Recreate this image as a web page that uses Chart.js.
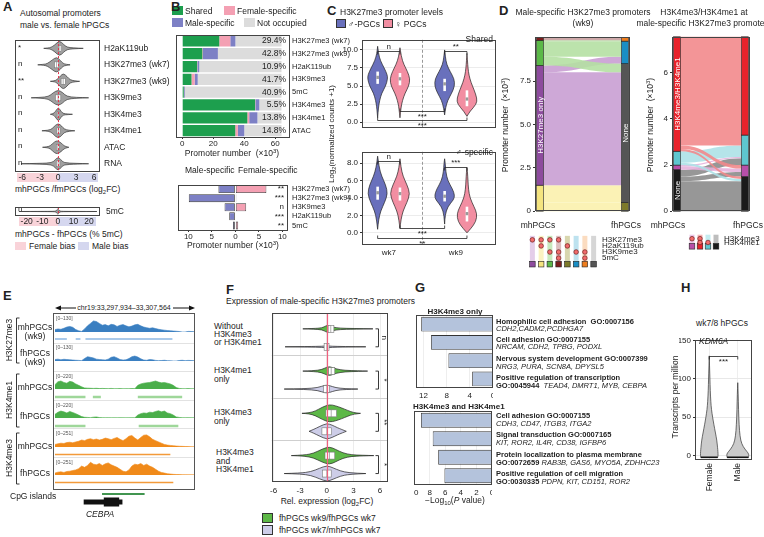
<!DOCTYPE html>
<html>
<head>
<meta charset="utf-8">
<title>Male-specific H3K27me3 in hPGCs</title>
<script src="https://cdn.jsdelivr.net/npm/chart.js@4.4.1/dist/chart.umd.min.js"></script>
<style>
  body { margin: 0; background: #fff; }
  #fig { position: relative; width: 764px; height: 537px; overflow: hidden; font-family: "Liberation Sans", Arial, "DejaVu Sans", sans-serif; font-size: 8px; color: #222; }
  #fig canvas, #fig .t, #fig .sq { position: absolute; }
  #fig svg { z-index: 0; }
  #fig .sq { z-index: 1; }
  #fig canvas { z-index: 2; }
  #fig .t { z-index: 3; }
  .t { white-space: nowrap; line-height: 1; }
  sub { font-size: 0.7em; vertical-align: -0.3em; line-height: 0; }
  sup { font-size: 0.7em; vertical-align: 0.5em; line-height: 0; }
</style>
</head>
<body>
<div id="fig"></div>
<script>
// ---------- A: male vs female hPGCs, log2FC per autosomal promoter ----------
const aRows = ['H2aK119ub', 'H3K27me3 (wk7)', 'H3K27me3 (wk9)', 'H3K9me3', 'H3K4me3', 'H3K4me1', 'ATAC', 'RNA'];
const aSig = ['*', 'n', '**', 'n', 'n', 'n', 'n', 'n'];
const aTicks = [-6, -3, 0, 3, 6];
const aViolins = [
  [[-2.4,0],[-1.6,0.06],[-1.2,0.12],[-0.6,0.4],[0.25,1],[0.9,0.5],[1.5,0.14],[2.5,0.06],[4.2,0]],
  [[-3.4,0],[-2.4,0.06],[-1.8,0.15],[-1,0.6],[-0.25,1],[0.4,0.55],[0.8,0.18],[1.4,0.06],[2,0]],
  [[-1.3,0],[-0.6,0.06],[-0.2,0.2],[0.4,0.7],[0.9,1],[1.5,0.6],[2,0.18],[2.8,0.06],[3.6,0]],
  [[-4.5,0],[-3,0.05],[-1.6,0.15],[-0.8,0.65],[0,1],[0.8,0.65],[1.4,0.18],[3,0.05],[5.1,0]],
  [[-1.3,0],[-0.8,0.08],[-0.5,0.3],[-0.1,0.75],[0.15,0.8],[0.5,0.35],[0.9,0.08],[1.6,0.05],[2.4,0]],
  [[-2.7,0],[-1.6,0.06],[-1,0.25],[-0.4,0.75],[0.1,0.9],[0.6,0.6],[1,0.22],[1.8,0.06],[2.8,0]],
  [[-2.6,0],[-1.8,0.06],[-1.3,0.18],[-0.6,0.7],[-0.1,0.85],[0.5,0.55],[1,0.18],[1.5,0.06],[1.8,0]],
  [[-6.2,0],[-3,0.05],[-1,0.12],[-0.5,0.5],[0,0.85],[0.5,0.5],[0.9,0.12],[3,0.05],[5.1,0]]
];
const aBoxes = [[0.05,0.3,0.6],[-0.6,-0.25,0.1],[0.5,0.85,1.2],[-0.45,0,0.45],[-0.15,0.05,0.25],[-0.2,0.1,0.35],[-0.3,-0.05,0.2],[-0.3,0,0.3]];
const mcTicks = [-20, -10, 0, 10, 20];
const mcViolin = [[-25,0],[-10,0.04],[-3,0.06],[-1.5,0.15],[-0.5,0.6],[0,0.9],[0.5,0.6],[1.5,0.15],[3,0.06],[10,0.04],[25,0]];
const mcBox = [-0.4, 0, 0.4];

// ---------- B: promoter occupancy (x10^3) ----------
const bRows = ['H3K27me3 (wk7)', 'H3K27me3 (wk9)', 'H2aK119ub', 'H3K9me3', '5mC', 'H3K4me3', 'H3K4me1', 'ATAC'];
const bShared = [23.9, 13.0, 9.6, 6.0, 1.0, 47.0, 42.0, 34.2];
const bFemale = [7.1, 0.4, 0.2, 2.0, 0.2, 0.2, 1.2, 1.7];
const bMale = [3.3, 9.6, 1.2, 2.0, 0.5, 2.5, 5.3, 4.1];
const bNone = [29.7, 41.0, 53.0, 54.0, 62.3, 14.3, 15.5, 24.0];
const bPct = ['29.4%', '42.8%', '10.9%', '41.7%', '40.9%', '5.5%', '13.8%', '14.8%'];
const bTicks = [0, 20, 40, 60];
const bdRows = ['H3K27me3 (wk7)', 'H3K27me3 (wk9)', 'H3K9me3', 'H2aK119ub', '5mC'];
const bdMale = [-3.6, -9.9, -2.3, -1.3, -0.5];
const bdFemale = [6.6, 0.2, 2.3, 0.1, 0.6];
const bdSig = ['**', '***', 'n', '***', '**'];
const bdTicks = [-10, -5, 0, 5, 10];

// ---------- C: H3K27me3 promoter levels (blue male, pink female; wk7 then wk9) ----------
const cGroups = ['wk7', 'wk9'];
const cUpTicks = [0, 2.5, 5, 7.5, 10];
const cLowTicks = [0, 2, 4, 6, 8];
const cSharedViolins = [
  [[0.6,0],[2,0.08],[3,0.2],[4,0.4],[5,0.8],[6,1],[6.6,0.95],[7.5,0.65],[8.5,0.28],[9.5,0.08],[10.5,0]],
  [[0.6,0],[2,0.1],[3,0.25],[4,0.5],[5,0.88],[6,1],[7,0.75],[8,0.38],[9,0.14],[10.3,0]],
  [[1,0],[2,0.1],[3,0.3],[4,0.7],[5,1],[6,0.95],[7,0.55],[8,0.2],[9,0.08],[10,0]],
  [[0.8,0],[1.5,0.3],[2.5,0.95],[3.3,1],[4.5,0.7],[5.5,0.4],[6.5,0.2],[7.5,0.1],[8.5,0.05],[9.5,0]]
];
const cSharedBoxes = [[5.3,6.2,7.0],[5.1,6.0,6.8],[4.3,5.3,6.0],[2.2,3.2,4.4]];
const cMaleViolins = [
  [[0.4,0],[1.5,0.1],[2.5,0.3],[3.5,0.7],[4.5,1],[5.5,0.8],[6.5,0.4],[7.5,0.15],[8.8,0]],
  [[0.5,0],[1.5,0.1],[2.5,0.3],[3.5,0.7],[4.5,1],[5.5,0.7],[6.5,0.3],[7.5,0.1],[8.5,0]],
  [[1,0],[2,0.05],[3,0.3],[3.8,0.9],[4.3,1],[5,0.8],[6,0.3],[7,0.12],[8,0.06],[8.5,0]],
  [[0,0],[0.5,0.4],[1.3,0.9],[2.2,1],[3,0.7],[4,0.3],[5,0.15],[6,0.1],[7,0.05],[7.5,0]]
];
const cMaleBoxes = [[3.8,4.6,5.3],[3.7,4.5,5.2],[3.6,4.2,4.8],[1.3,2.2,3.0]];

// ---------- D: alluvial flows (x10^3 promoters), stacked bottom to top ----------
const dLeftVals = [1.5, 6.9, 1.45, 0.15];      // mhPGCs: K27+K119, K27 only, K27+K9, K27+K9+5mC
const dRightVals = [0.5, 8.0, 1.3, 0.2];       // fhPGCs: K119 only, none, K9 only, K9+5mC
const dFlows = [[0,0,0.5],[0,1,1.0],[1,1,6.5],[1,2,0.4],[2,1,0.5],[2,2,0.9],[2,3,0.05],[3,3,0.15]];
const dTicks = [0, 2.5, 5, 7.5];
const dLegRows = ['H3K27me3', 'H2aK119ub', 'H3K9me3', '5mC'];
const dLegMarks = [[0],[0,1],[0,2],[0,2,3],[1],[2],[2,3],[]];
const d2LeftVals = [1.8, 0.2, 0.6, 4.96];      // none, K4me3, K4me1, both
const d2RightVals = [1.5, 0.5, 1.3, 4.26];
const d2Flows = [[0,0,1.3],[0,1,0.2],[0,2,0.3],[1,1,0.15],[1,2,0.05],[2,0,0.1],[2,2,0.5],[3,0,0.1],[3,1,0.15],[3,2,0.45],[3,3,4.26]];
const d2Ticks = [0, 2, 4, 6];
const d2LegRows = ['H3K4me3', 'H3K4me1'];
const d2LegMarks = [[0],[0,1],[1],[]];

// ---------- E: browser tracks at CEBPA (48 bins) ----------
const eK27mh = [20,25,22,30,40,45,38,20,10,5,25,50,70,90,85,70,55,60,50,62,58,45,55,60,50,42,48,58,62,50,40,35,30,34,28,22,18,15,12,10,8,6,4,0,0,5,4,3];
const eK27fh = [12,15,10,14,12,10,8,6,5,3,20,35,30,25,15,12,10,8,15,30,35,25,12,8,10,20,35,40,32,18,8,6,12,10,5,3,4,6,3,2,0,0,4,6,3,5,4,3];
const eK4me1mh = [60,100,110,90,80,105,95,70,50,30,15,12,10,8,10,6,8,6,5,8,4,5,6,3,5,4,6,5,50,70,80,85,90,100,110,95,85,90,80,70,50,20,8,5,3,6,4,3];
const eK4me1fh = [50,80,95,85,70,90,75,60,40,20,10,8,5,12,15,6,4,3,4,2,3,2,4,3,2,3,4,3,40,60,70,65,80,75,90,100,85,95,70,60,40,15,8,4,3,5,3,2];
const eK4me3mh = [40,50,60,55,70,75,65,80,90,110,100,120,130,115,125,110,120,140,130,115,135,150,120,100,130,170,180,140,110,150,185,190,160,120,100,80,60,40,30,25,20,15,12,10,8,6,4,3];
const eK4me3fh = [30,45,50,40,55,60,70,80,100,140,120,150,200,170,160,180,150,175,190,160,140,120,90,60,50,80,140,170,160,180,150,170,140,120,90,60,40,30,20,15,10,8,6,5,4,3,3,2];
const ePeaksK27mh = [[0,4],[7,8.6],[10.3,39.7]];
const ePeaksK4me1mh = [[0,10.3],[12.8,15.5],[28,43]];
const ePeaksK4me1fh = [[0,10.3],[28.3,41.7]];
const ePeaksK4me3mh = [[0,39]];
const ePeaksK4me3fh = [[0,40]];
const eCpG = [15.9, 30.3];
const eGeneUTR = [9.7, 22.8];
const eGeneCDS = [16.5, 21.7];

// ---------- F: expression of male-specific H3K27me3 promoters ----------
const fTicks = [-6, -3, 0, 3, 6];
const fSig = ['n', '*', '**', '*'];
const fGreen = [
  [[-2.7,0],[-1.5,0.04],[-0.5,0.1],[-0.1,0.35],[0.2,0.38],[0.6,0.2],[1.5,0.07],[3,0.04],[5.2,0]],
  [[-2.7,0],[-1.5,0.05],[-0.6,0.15],[0,0.45],[0.4,0.5],[1,0.25],[2,0.08],[3.5,0.04],[4.6,0]],
  [[-2.8,0],[-2,0.05],[-1.3,0.25],[-0.5,0.7],[0.3,1],[1,0.85],[1.7,0.6],[2.3,0.35],[3,0.08],[3.8,0]],
  [[-4,0],[-2.5,0.06],[-1.5,0.25],[-0.5,0.75],[0.3,1],[1,0.7],[1.8,0.3],[2.8,0.08],[4,0.04],[5.3,0]]
];
const fLav = [
  [[-4.7,0],[-2,0.03],[-0.5,0.06],[0,0.12],[0.5,0.06],[2,0.03],[4.4,0]],
  [[-4.8,0],[-2.5,0.04],[-1,0.15],[-0.2,0.45],[0.3,0.4],[1,0.15],[2,0.05],[3.5,0]],
  [[-2,0],[-1.5,0.2],[-0.8,0.55],[0,0.9],[0.6,0.7],[1.2,0.4],[1.7,0.2],[2.2,0]],
  [[-4.8,0],[-3,0.05],[-1.8,0.2],[-0.8,0.6],[0,0.9],[0.7,0.65],[1.5,0.3],[2.5,0.08],[4.4,0]]
];
const fGreenBoxes = [[0.15,0.45,0.8],[0.2,0.5,0.9],[-0.1,0.5,1.1],[-0.2,0.3,0.9]];
const fLavBoxes = [[-0.3,0,0.25],[-0.35,0,0.3],[-0.55,0,0.55],[-0.5,0,0.5]];

// ---------- G: GO enrichment, -log10(P) ----------
const gTopTerms = ['Homophilic cell adhesion', 'Cell adhesion', 'Nervous system development', 'Positive regulation of transcription'];
const gTopP = [12.4, 10.7, 7.7, 3.6];
const gTopTicks = [0, 4, 8, 12];
const gBotTerms = ['Cell adhesion', 'Signal transduction', 'Protein localization to plasma membrane', 'Positive regulation of cell migration'];
const gBotP = [9.1, 7.6, 6.9, 6.1];
const gBotTicks = [0, 2, 4, 6, 8, 10];

// ---------- H: KDM6A TPM ----------
const hGroups = ['Female', 'Male'];
const hTicks = [0, 50, 100, 150];
const hViolins = [
  [[-3,0.75],[0,0.8],[5,0.78],[10,0.75],[20,0.68],[30,0.55],[40,0.42],[50,0.3],[60,0.2],[70,0.14],[85,0.09],[100,0.06],[115,0.03],[130,0]],
  [[-3,0.95],[0,1],[3,0.95],[8,0.65],[15,0.35],[25,0.2],[40,0.12],[60,0.07],[80,0.04],[95,0]]
];
const hMedians = [-2.5, -2.5];

// ================= setup =================
const fig = document.getElementById('fig');
const FONT = '"Liberation Sans", Arial, "DejaVu Sans", sans-serif';

Chart.defaults.font.family = FONT;
Chart.defaults.font.size = 8;
Chart.defaults.color = '#222';
Chart.defaults.animation = false;
Chart.defaults.responsive = false;
Chart.defaults.maintainAspectRatio = false;
Chart.defaults.layout.autoPadding = false;
Chart.defaults.plugins.legend.display = false;
Chart.defaults.plugins.tooltip.enabled = false;
Chart.defaults.events = [];
Chart.defaults.scale.ticks.autoSkip = false;
Chart.defaults.scale.ticks.maxRotation = 0;

function mk(x, y, w, h) {
  const c = document.createElement('canvas');
  c.width = w; c.height = h;
  c.style.left = x + 'px'; c.style.top = y + 'px';
  c.style.width = w + 'px'; c.style.height = h + 'px';
  fig.appendChild(c);
  return c;
}
function mkSvg(x, y, w, h) {
  const s = document.createElementNS('http://www.w3.org/2000/svg', 'svg');
  s.setAttribute('width', w); s.setAttribute('height', h);
  s.setAttribute('viewBox', `${x} ${y} ${w} ${h}`);
  s.style.cssText = `position:absolute;left:${x}px;top:${y}px`;
  fig.insertBefore(s, fig.firstChild);
  return s;
}
const svgAdd = (s, html) => s.insertAdjacentHTML('beforeend', html);
const pts = p => p.map(q => q.map(v => v.toFixed(1)).join(',')).join(' ');
const fixTicks = vals => s => { s.ticks = vals.map(v => ({ value: v })); };
const fixW = w => s => { s.width = w; };
const fixH = h => s => { s.height = h; };

function T(x, y, html, o = {}) {
  const d = document.createElement('div');
  d.className = 't'; d.innerHTML = html;
  const s = d.style;
  s.left = x + 'px'; s.top = y + 'px';
  if (o.size) s.fontSize = o.size + 'px';
  if (o.bold) s.fontWeight = 'bold';
  if (o.italic) s.fontStyle = 'italic';
  if (o.color) s.color = o.color;
  if (o.lh) s.lineHeight = o.lh + 'px';
  if (o.a === 'c') s.transform = 'translateX(-50%)';
  if (o.a === 'r') s.transform = 'translateX(-100%)';
  if (o.rot) s.transform = 'translate(-50%,-50%) rotate(-90deg)';
  fig.appendChild(d);
}
function SQ(x, y, w, h, fill, stroke) {
  const d = document.createElement('div');
  d.className = 'sq';
  d.style.cssText = `left:${x}px;top:${y}px;width:${w}px;height:${h}px;background:${fill};` + (stroke ? `box-sizing:border-box;border:0.8px solid ${stroke};` : '');
  fig.appendChild(d);
}

// ---------- small plugins ----------
function smoothTo(ctx, p, start) {
  if (start) ctx.moveTo(p[0][0], p[0][1]); else ctx.lineTo(p[0][0], p[0][1]);
  for (let i = 1; i < p.length - 1; i++) {
    ctx.quadraticCurveTo(p[i][0], p[i][1], (p[i][0] + p[i + 1][0]) / 2, (p[i][1] + p[i + 1][1]) / 2);
  }
  const e = p[p.length - 1];
  ctx.lineTo(e[0], e[1]);
}
function widthAt(prof, v) {
  for (let i = 1; i < prof.length; i++) {
    if (v <= prof[i][0]) {
      const [a, da] = prof[i - 1], [b, db] = prof[i];
      return da + (db - da) * (v - a) / (b - a);
    }
  }
  return 0;
}

function frame(color = '#444', lw = 1) {
  return { id: 'frame', afterDraw(c) {
    const a = c.chartArea, x = c.ctx;
    x.save(); x.strokeStyle = color; x.lineWidth = lw;
    x.strokeRect(Math.round(a.left) + 0.5, Math.round(a.top) + 0.5, Math.round(a.right - a.left) - 1, Math.round(a.bottom - a.top) - 1);
    x.restore();
  } };
}

function refLines(items) {
  const draw = (c, over) => {
    const a = c.chartArea, x = c.ctx;
    items.filter(l => !!l.over === over).forEach(l => {
      const p = Math.round(c.scales[l.axis].getPixelForValue(l.at)) + 0.5;
      x.save(); x.strokeStyle = l.color; x.lineWidth = l.lw || 1; x.setLineDash(l.dash || []);
      x.beginPath();
      if (l.axis === 'x') { x.moveTo(p, a.top); x.lineTo(p, a.bottom); } else { x.moveTo(a.left, p); x.lineTo(a.right, p); }
      x.stroke(); x.restore();
    });
  };
  return { id: 'refLines', beforeDatasetsDraw(c) { draw(c, false); }, afterDatasetsDraw(c) { draw(c, true); } };
}

function rowText(labels, o = {}) {
  return { id: 'rowText', afterDraw(c) {
    const a = c.chartArea, ys = c.scales.y, x = c.ctx;
    x.save(); x.fillStyle = '#222'; x.font = (o.size || 8) + 'px ' + FONT;
    x.textAlign = o.align || 'left'; x.textBaseline = 'middle';
    const px = o.align === 'left' || !o.align ? a.left + (o.pad || 3) : a.right - (o.pad || 3);
    labels.forEach((l, i) => x.fillText(l, px, ys.getPixelForValue(i) + (o.dy || 0)));
    x.restore();
  } };
}

function violins(cfg) {
  return { id: 'violins', afterDatasetsDraw(chart) {
    const ctx = chart.ctx, a = chart.chartArea;
    const vs = cfg.horizontal ? chart.scales.x : chart.scales.y;
    const ps = cfg.horizontal ? chart.scales.y : chart.scales.x;
    const P = (v, p) => cfg.horizontal ? [vs.getPixelForValue(v), ps.getPixelForValue(p)] : [ps.getPixelForValue(p), vs.getPixelForValue(v)];
    const w = cfg.width;
    ctx.save();
    ctx.beginPath(); ctx.rect(a.left, a.top, a.right - a.left, a.bottom - a.top); ctx.clip();
    cfg.items.forEach(it => {
      const s1 = it.prof.map(([v, d]) => P(v, it.pos - d * w));
      const s2 = it.prof.map(([v, d]) => P(v, it.pos + d * w)).reverse();
      ctx.beginPath(); smoothTo(ctx, s1, true); smoothTo(ctx, s2, false); ctx.closePath();
      ctx.fillStyle = it.color; ctx.fill();
      ctx.lineWidth = cfg.lw || 0.7; ctx.strokeStyle = cfg.stroke || '#222'; ctx.stroke();
      if (!it.box) return;
      if (cfg.boxStyle === 'box') {
        const [q1, m, q3] = it.box, h = cfg.boxH;
        const x1 = vs.getPixelForValue(q1), x2 = vs.getPixelForValue(q3), xm = vs.getPixelForValue(m), y = ps.getPixelForValue(it.pos);
        ctx.fillStyle = '#fff'; ctx.fillRect(x1, y - h, x2 - x1, 2 * h);
        ctx.lineWidth = 0.6; ctx.strokeStyle = '#777'; ctx.strokeRect(x1, y - h, x2 - x1, 2 * h);
        ctx.beginPath(); ctx.moveTo(xm, y - h); ctx.lineTo(xm, y + h); ctx.stroke();
      } else if (cfg.boxStyle === 'bar') {
        const [q1, m, q3] = it.box, x = ps.getPixelForValue(it.pos);
        const y1 = vs.getPixelForValue(q3), y2 = vs.getPixelForValue(q1), ym = vs.getPixelForValue(m);
        ctx.fillStyle = '#fff'; ctx.fillRect(x - 1.3, y1, 2.6, y2 - y1);
        ctx.fillStyle = '#9a9a9a'; ctx.fillRect(x - 1.3, ym - 1.6, 2.6, 3.2);
      } else if (cfg.boxStyle === 'median') {
        const m = it.box[0], hw = widthAt(it.prof, m) * w;
        const [x1, y1] = P(m, it.pos - hw), [x2, y2] = P(m, it.pos + hw);
        ctx.lineWidth = 1.6; ctx.strokeStyle = '#111';
        ctx.beginPath(); ctx.moveTo(x1, y1); ctx.lineTo(x2, y2); ctx.stroke();
      }
    });
    ctx.restore();
  } };
}

function brackets(items) {
  return { id: 'brackets', afterDatasetsDraw(chart) {
    const ctx = chart.ctx, xs = chart.scales.x, ys = chart.scales.y;
    ctx.save();
    ctx.strokeStyle = '#222'; ctx.fillStyle = '#222'; ctx.lineWidth = 0.8;
    ctx.font = '8px ' + FONT; ctx.textAlign = 'center';
    items.forEach(b => {
      const x1 = xs.getPixelForValue(b.from), x2 = xs.getPixelForValue(b.to), y = Math.round(ys.getPixelForValue(b.at)) + 0.5;
      ctx.beginPath(); ctx.moveTo(x1, y + b.tick); ctx.lineTo(x1, y); ctx.lineTo(x2, y); ctx.lineTo(x2, y + b.tick); ctx.stroke();
      if (b.below) { ctx.textBaseline = 'top'; ctx.fillText(b.label, (x1 + x2) / 2, y + 1); }
      else { ctx.textBaseline = 'bottom'; ctx.fillText(b.label, (x1 + x2) / 2, y - 0.5); }
    });
    ctx.restore();
  } };
}

function sideBrackets(labels, posA, posB) {
  return { id: 'sideBrackets', afterDraw(chart) {
    const ctx = chart.ctx, ys = chart.scales.y, x = Math.round(chart.chartArea.right - 10) + 0.5;
    ctx.save(); ctx.strokeStyle = '#222'; ctx.fillStyle = '#222'; ctx.lineWidth = 0.9; ctx.font = '8px ' + FONT;
    labels.forEach((l, g) => {
      const y1 = ys.getPixelForValue(posA(g)), y2 = ys.getPixelForValue(posB(g));
      ctx.beginPath(); ctx.moveTo(x - 3, y1); ctx.lineTo(x, y1); ctx.lineTo(x, y2); ctx.lineTo(x - 3, y2); ctx.stroke();
      ctx.save(); ctx.translate(x + 2, (y1 + y2) / 2); ctx.rotate(Math.PI / 2);
      ctx.textAlign = 'center'; ctx.textBaseline = 'bottom'; ctx.fillText(l, 0, 0); ctx.restore();
    });
    ctx.restore();
  } };
}

function alluvial(cfg) {
  return { id: 'alluvial', afterDatasetsDraw(chart) {
    const ctx = chart.ctx, a = chart.chartArea, ys = chart.scales.y;
    const nw = 7, xl0 = a.left + 1.5, xl1 = xl0 + nw, xr1 = a.right - 1.5, xr0 = xr1 - nw;
    const starts = vals => { let s = 0; return vals.map(v => { const r = s; s += v; return r; }); };
    const ls = starts(cfg.left), rs = starts(cfg.right);
    const lo = cfg.left.map(() => 0), ro = cfg.right.map(() => 0);
    const fl = cfg.flows.map(([s, t, v]) => ({ s, t, v }));
    fl.slice().sort((p, q) => p.s - q.s || p.t - q.t).forEach(f => { f.y0 = ls[f.s] + lo[f.s]; lo[f.s] += f.v; });
    fl.slice().sort((p, q) => p.t - q.t || p.s - q.s).forEach(f => { f.y1 = rs[f.t] + ro[f.t]; ro[f.t] += f.v; });
    const Y = v => ys.getPixelForValue(v), xm = (xl1 + xr0) / 2;
    ctx.save();
    ctx.globalAlpha = cfg.alpha;
    fl.forEach(f => {
      const a0 = Y(f.y0), a1 = Y(f.y0 + f.v), b0 = Y(f.y1), b1 = Y(f.y1 + f.v);
      ctx.beginPath(); ctx.moveTo(xl1, a0); ctx.bezierCurveTo(xm, a0, xm, b0, xr0, b0);
      ctx.lineTo(xr0, b1); ctx.bezierCurveTo(xm, b1, xm, a1, xl1, a1); ctx.closePath();
      ctx.fillStyle = cfg.flowColors[f.s]; ctx.fill();
    });
    ctx.globalAlpha = 1;
    const node = (x, y0, v, col, lab) => {
      const top = Y(y0 + v), bot = Y(y0);
      ctx.fillStyle = col; ctx.fillRect(x, top, nw, bot - top);
      ctx.lineWidth = 0.6; ctx.strokeStyle = '#222'; ctx.strokeRect(x, top, nw, bot - top);
      if (lab) {
        ctx.save(); ctx.translate(x + nw / 2 + 0.5, (top + bot) / 2); ctx.rotate(-Math.PI / 2);
        ctx.fillStyle = '#fff'; ctx.font = '8px ' + FONT; ctx.textAlign = 'center'; ctx.textBaseline = 'middle';
        ctx.fillText(lab, 0, 0); ctx.restore();
      }
    };
    cfg.left.forEach((v, i) => node(xl0, ls[i], v, cfg.leftColors[i], cfg.leftLabels[i]));
    cfg.right.forEach((v, i) => node(xr0, rs[i], v, cfg.rightColors[i], cfg.rightLabels[i]));
    ctx.restore();
  } };
}

function matrix(cfg) {
  return { id: 'matrix', beforeDatasetsDraw(chart) {
    const ctx = chart.ctx, xs = chart.scales.x, ys = chart.scales.y, n = cfg.rows;
    cfg.stripe.forEach((col, c) => {
      const x = xs.getPixelForValue(c), t = ys.getPixelForValue(0) - 4, b = ys.getPixelForValue(n - 1) + 4, sq = ys.getPixelForValue(n);
      ctx.fillStyle = col; ctx.fillRect(x - 2.5, t, 5, b - t);
      ctx.fillStyle = cfg.square[c]; ctx.fillRect(x - 2.8, sq - 2.8, 5.6, 5.6);
      ctx.lineWidth = 0.6; ctx.strokeStyle = '#222'; ctx.strokeRect(x - 2.8, sq - 2.8, 5.6, 5.6);
    });
  } };
}

function segs(items) {
  return { id: 'segs', afterDraw(chart) {
    const ctx = chart.ctx, xs = chart.scales.x, b = chart.chartArea.bottom;
    items.forEach(s => {
      const x1 = xs.getPixelForValue(s.r[0]), x2 = xs.getPixelForValue(s.r[1]);
      ctx.fillStyle = s.color; ctx.fillRect(x1, b + s.dy - s.h / 2, x2 - x1, s.h);
    });
  } };
}

const noGrid = { display: false, drawTicks: false };
const noBorder = { display: false };

// bias bands under the A axes (z-index keeps tick labels on top)
SQ(17, 173, 41, 9, '#f9d3d9'); SQ(58, 173, 40, 9, '#d5d7ef');
SQ(19, 217, 39, 9, '#f9d3d9'); SQ(58, 217, 38, 9, '#d5d7ef');

// ================= A =================
const aX = (min, max, ticks) => ({ type: 'linear', position: 'bottom', min, max, afterBuildTicks: fixTicks(ticks),
  grid: noGrid, border: noBorder, ticks: { display: true, padding: 1, color: '#222', font: { size: 8.5 } }, afterFit: fixH(11) });
new Chart(mk(15, 31, 170, 152), {
  type: 'scatter', data: { datasets: [] },
  options: { scales: {
    x: aX(-7.2, 7, aTicks),
    y: { type: 'category', labels: aRows, offset: true, position: 'right', grid: noGrid, border: noBorder, ticks: { padding: 4, font: { size: 8.5 } }, afterFit: fixW(85) }
  } },
  plugins: [
    violins({ horizontal: true, width: 0.48, boxStyle: 'box', boxH: 3, lw: 0.6,
      items: aViolins.map((p, i) => ({ pos: i, prof: p, color: '#a0a0a0', box: aBoxes[i] })) }),
    refLines([{ axis: 'x', at: 0, color: '#e8304a', dash: [2, 2], over: true }]),
    rowText(aSig, { align: 'left', pad: 3, dy: -1 }),
    frame()
  ]
});
new Chart(mk(15, 196, 170, 31), {
  type: 'scatter', data: { datasets: [] },
  options: { scales: {
    x: aX(-27.5, 27, mcTicks),
    y: { type: 'category', labels: ['5mC'], offset: true, position: 'right', grid: noGrid, border: noBorder, ticks: { padding: 6, font: { size: 8.5 } }, afterFit: fixW(85) }
  } },
  plugins: [
    violins({ horizontal: true, width: 0.3, boxStyle: 'box', boxH: 2.5, lw: 0.6, items: [{ pos: 0, prof: mcViolin, color: '#a0a0a0', box: mcBox }] }),
    refLines([{ axis: 'x', at: 0, color: '#e8304a', dash: [2, 2], over: true }]),
    rowText(['n'], { align: 'left', pad: 3, dy: -3 }),
    frame()
  ]
});

// ================= B =================
const barTickGrid = { display: true, drawOnChartArea: false, tickLength: 2, color: '#333' };
new Chart(mk(176, 28, 190, 121), {
  type: 'bar',
  data: { labels: bRows, datasets: [
    { data: bShared, backgroundColor: '#1d9f4e' },
    { data: bFemale, backgroundColor: '#f4a0b3' },
    { data: bMale, backgroundColor: '#7d80c5' },
    { data: bNone, backgroundColor: '#dcdcdc' }
  ] },
  options: {
    indexAxis: 'y',
    datasets: { bar: { barPercentage: 0.88, categoryPercentage: 1, borderWidth: 0 } },
    scales: {
      x: { stacked: true, type: 'linear', min: -4, max: 69.5, afterBuildTicks: fixTicks(bTicks), grid: barTickGrid, border: noBorder, ticks: { padding: 0 }, afterFit: fixH(12) },
      y: { stacked: true, position: 'right', grid: noGrid, border: noBorder, ticks: { padding: 2, font: { size: 7.5 } }, afterFit: fixW(76) }
    }
  },
  plugins: [rowText(bPct, { align: 'right', pad: 4, size: 8.5 }), frame()]
});
new Chart(mk(178, 176, 190, 66), {
  type: 'bar',
  data: { labels: bdRows, datasets: [
    { data: bdMale, backgroundColor: '#7d80c5' },
    { data: bdFemale, backgroundColor: '#f4a0b3' }
  ] },
  options: {
    indexAxis: 'y',
    datasets: { bar: { barPercentage: 0.88, categoryPercentage: 1, borderWidth: 0.8, borderColor: '#333', borderSkipped: false } },
    scales: {
      x: { stacked: true, type: 'linear', min: -12.2, max: 11.2, afterBuildTicks: fixTicks(bdTicks), grid: barTickGrid, border: noBorder, ticks: { padding: 0, callback: v => Math.abs(v) }, afterFit: fixH(12) },
      y: { stacked: true, position: 'right', grid: noGrid, border: noBorder, ticks: { padding: 4, font: { size: 7.5 } }, afterFit: fixW(80) }
    }
  },
  plugins: [rowText(bdSig, { align: 'right', pad: 4 }), frame()]
});

// ================= C =================
const cColors = ['#6970bc', '#f28ea2', '#6970bc', '#f28ea2'];
const cPos = [0, 1, 3, 4];
const cY = (min, max, ticks) => ({ type: 'linear', min, max, afterBuildTicks: fixTicks(ticks),
  ticks: { padding: 2, callback: v => v.toFixed(1) }, grid: { color: '#ececec', tickLength: 2, tickColor: '#333' }, border: noBorder, afterFit: fixW(22) });
new Chart(mk(340, 33, 156, 102), {
  type: 'scatter', data: { datasets: [] },
  options: { scales: { x: { type: 'linear', min: -0.7, max: 5.3, display: false }, y: cY(-0.84, 11.4, cUpTicks) } },
  plugins: [
    refLines([{ axis: 'x', at: 2, color: '#999', dash: [3, 2] }]),
    violins({ horizontal: false, width: 0.45, boxStyle: 'bar', lw: 0.7,
      items: cSharedViolins.map((p, i) => ({ pos: cPos[i], prof: p, color: cColors[i], box: cSharedBoxes[i] })) }),
    brackets([
      { from: 0, to: 1, at: 9.9, label: 'n', tick: 3 },
      { from: 3, to: 4, at: 9.9, label: '**', tick: 3 },
      { from: 1, to: 3, at: 1.6, label: '***', tick: -3, below: true },
      { from: 0, to: 4, at: 0.3, label: '***', tick: -3, below: true }
    ]),
    frame()
  ]
});
new Chart(mk(340, 145, 156, 112), {
  type: 'scatter', data: { datasets: [] },
  options: { scales: {
    x: { type: 'linear', min: -0.7, max: 5.3, afterBuildTicks: fixTicks([0.5, 3.5]), ticks: { padding: 3, callback: (v, i) => cGroups[i] }, grid: noGrid, border: noBorder, afterFit: fixH(12) },
    y: cY(-1.4, 9.3, cLowTicks)
  } },
  plugins: [
    refLines([{ axis: 'x', at: 2, color: '#999', dash: [3, 2] }]),
    violins({ horizontal: false, width: 0.45, boxStyle: 'bar', lw: 0.7,
      items: cMaleViolins.map((p, i) => ({ pos: cPos[i], prof: p, color: cColors[i], box: cMaleBoxes[i] })) }),
    brackets([
      { from: 0, to: 1, at: 8.3, label: 'n', tick: 3 },
      { from: 3, to: 4, at: 7.6, label: '***', tick: 3 },
      { from: 1, to: 3, at: 0.6, label: '***', tick: -3, below: true },
      { from: 0, to: 4, at: -0.6, label: '**', tick: -3, below: true }
    ]),
    frame()
  ]
});

// ================= D =================
const dAxisY = (max, ticks, w, fmt) => ({ type: 'linear', min: 0, max, afterBuildTicks: fixTicks(ticks),
  ticks: { padding: 2, callback: fmt }, grid: { display: true, drawOnChartArea: false, tickLength: 2, color: '#333' }, border: noBorder, afterFit: fixW(w) });
const dLeft = new Chart(mk(513, 30, 117, 188), {
  type: 'scatter', data: { datasets: [] },
  options: { scales: { x: { type: 'linear', min: 0, max: 1, display: false }, y: dAxisY(10.05, dTicks, 22, v => v ? v.toFixed(1) : '0') } },
  plugins: [alluvial({
    left: dLeftVals, right: dRightVals, flows: dFlows, alpha: 0.9,
    leftColors: ['#f4e47f', '#8d4b9e', '#5bb948', '#7c1d1d'], rightColors: ['#7d7a2a', '#555555', '#1a8ec4', '#ee7d1e'],
    flowColors: ['#fbf1ad', '#c99fd3', '#b5e0a3', '#c9a0a0'],
    leftLabels: ['', 'H3K27me3 only', '', ''], rightLabels: ['', 'None', '', '']
  }), frame()]
});
const dRight = new Chart(mk(658, 30, 92, 188), {
  type: 'scatter', data: { datasets: [] },
  options: { scales: { x: { type: 'linear', min: 0, max: 1, display: false }, y: dAxisY(7.56, d2Ticks, 14, v => v) } },
  plugins: [alluvial({
    left: d2LeftVals, right: d2RightVals, flows: d2Flows, alpha: 0.9,
    leftColors: ['#1a1a1a', '#b84ea8', '#5ec6cf', '#e8222b'], rightColors: ['#1a1a1a', '#b84ea8', '#5ec6cf', '#e8222b'],
    flowColors: ['#8c8c8c', '#e5b3dc', '#ade1e7', '#f28a8c'],
    leftLabels: ['None', '', '', 'H3K4me3/H3K4me1'], rightLabels: ['', '', '', '']
  }), frame()]
});
const dotStyle = { pointRadius: 2.3, pointBackgroundColor: '#f26c6c', pointBorderColor: '#6e1f1f', pointBorderWidth: 0.7 };
new Chart(mk(528, 228, 122, 48), {
  type: 'scatter',
  data: { datasets: [{ data: dLegMarks.flatMap((rows, c) => rows.map(r => ({ x: c, y: dLegRows[r] }))), ...dotStyle }] },
  options: { scales: {
    x: { type: 'linear', min: -0.5, max: 7.5, display: false },
    y: { type: 'category', labels: [...dLegRows, ''], offset: true, position: 'right', grid: noGrid, border: noBorder, ticks: { padding: 4, font: { size: 8 } }, afterFit: fixW(52) }
  } },
  plugins: [matrix({ rows: dLegRows.length,
    stripe: ['#e4cde9', '#fbf3c2', '#c8e9bc', '#ddbdbd', '#d8d6ae', '#bde2ef', '#fbdcc0', '#d6d6d6'],
    square: ['#8d4b9e', '#f4e47f', '#5bb948', '#7c1d1d', '#7d7a2a', '#1a8ec4', '#ee7d1e', '#555555'] })]
});
new Chart(mk(688, 228, 76, 29), {
  type: 'scatter',
  data: { datasets: [{ data: d2LegMarks.flatMap((rows, c) => rows.map(r => ({ x: c, y: d2LegRows[r] }))), ...dotStyle }] },
  options: { scales: {
    x: { type: 'linear', min: -0.5, max: 3.5, display: false },
    y: { type: 'category', labels: [...d2LegRows, ''], offset: true, position: 'right', grid: noGrid, border: noBorder, ticks: { padding: 4, font: { size: 8 } }, afterFit: fixW(44) }
  } },
  plugins: [matrix({ rows: d2LegRows.length,
    stripe: ['#ecc6e6', '#f6b4b6', '#c4ecf0', '#bdbdbd'],
    square: ['#b84ea8', '#e8222b', '#5ec6cf', '#1a1a1a'] })]
});

// ================= E =================
const eBins = eK27mh.map((_, i) => i);
function track(base, data, max, color, peaks) {
  return new Chart(mk(55, base - 16, 139, 26), {
    type: 'line',
    data: { labels: eBins, datasets: [{ data, fill: 'origin', backgroundColor: color, borderColor: color, borderWidth: 0.6, pointRadius: 0, tension: 0 }] },
    options: { layout: { padding: { bottom: 10 } }, scales: { x: { display: false }, y: { display: false, min: 0, max } } },
    plugins: [segs(peaks)]
  });
}
const bluePk = r => ({ r, dy: 7, h: 2, color: '#a9c9ea' });
const greenPk = r => ({ r, dy: 8, h: 2.5, color: '#9fd79a' });
const orangePk = r => ({ r, dy: 7.5, h: 1.5, color: '#f39a3a' });
track(332, eK27mh, 130, '#3a7fc1', ePeaksK27mh.map(bluePk));
track(361, eK27fh, 130, '#3a7fc1', []);
track(389, eK4me1mh, 220, '#4aae4a', ePeaksK4me1mh.map(greenPk));
track(418, eK4me1fh, 220, '#4aae4a', ePeaksK4me1fh.map(greenPk));
track(447, eK4me3mh, 251, '#f08a1a', ePeaksK4me3mh.map(orangePk));
track(475, eK4me3fh, 251, '#f08a1a', ePeaksK4me3fh.map(orangePk));
new Chart(mk(55, 486, 139, 22), {
  type: 'line',
  data: { labels: eBins, datasets: [] },
  options: { layout: { padding: { bottom: 20 } }, scales: { x: { display: false }, y: { display: false, min: 0, max: 1 } } },
  plugins: [segs([
    { r: eCpG, dy: 6, h: 1.8, color: '#2d8a3e' },
    { r: eGeneUTR, dy: 14, h: 5, color: '#111' },
    { r: eGeneCDS, dy: 14, h: 9, color: '#111' }
  ])]
});

// ================= F =================
const fPosG = g => 2 * g + 0.75, fPosL = g => 2 * g + 1.6;
const fChart = new Chart(mk(266, 313, 122, 183), {
  type: 'scatter', data: { datasets: [] },
  options: { scales: {
    x: { type: 'linear', min: -6.2, max: 6.9, afterBuildTicks: fixTicks(fTicks), ticks: { padding: 4 }, grid: { color: '#ececec', drawTicks: false }, border: noBorder, afterFit: fixH(14) },
    y: { type: 'linear', min: 0, max: 8, reverse: true, display: false }
  } },
  plugins: [
    refLines([{ axis: 'y', at: 2, color: '#cfcfcf' }, { axis: 'y', at: 4, color: '#cfcfcf' }, { axis: 'y', at: 6, color: '#cfcfcf' }]),
    violins({ horizontal: true, width: 0.42, boxStyle: 'box', boxH: 3.5, lw: 0.7,
      items: fGreen.flatMap((p, g) => [
        { pos: fPosG(g), prof: p, color: '#5db847', box: fGreenBoxes[g] },
        { pos: fPosL(g), prof: fLav[g], color: '#cdcde8', box: fLavBoxes[g] }
      ]) }),
    refLines([{ axis: 'x', at: 0, color: '#f0607e', lw: 1.2, over: true }]),
    sideBrackets(fSig, fPosG, fPosL),
    frame()
  ]
});

// ================= G =================
const gAxisX = (max, ticks) => ({ type: 'linear', min: 0, max, reverse: true, afterBuildTicks: fixTicks(ticks),
  ticks: { padding: 3 }, grid: { color: '#eeeeee', drawTicks: false }, border: noBorder, afterFit: fixH(11) });
const gBar = { backgroundColor: '#b4c3dc', borderColor: '#333', borderWidth: 0.8, barPercentage: 0.8, categoryPercentage: 1 };
const gTop = new Chart(mk(416, 315, 77, 84), {
  type: 'bar',
  data: { labels: gTopTerms, datasets: [{ data: gTopP, ...gBar }] },
  options: { indexAxis: 'y', scales: { x: gAxisX(13.3, gTopTicks), y: { display: false } } },
  plugins: [frame()]
});
const gBot = new Chart(mk(414, 411, 78, 85), {
  type: 'bar',
  data: { labels: gBotTerms, datasets: [{ data: gBotP, ...gBar }] },
  options: { indexAxis: 'y', scales: { x: gAxisX(10, gBotTicks), y: { display: false } } },
  plugins: [frame()]
});

// ================= H =================
new Chart(mk(679, 333, 73, 167), {
  type: 'scatter', data: { datasets: [] },
  options: { scales: {
    x: { type: 'category', labels: hGroups, offset: true, grid: { color: '#eeeeee', drawTicks: false }, border: noBorder,
      ticks: { padding: 3, minRotation: 90, maxRotation: 90, font: { size: 8.5 } }, afterFit: fixH(40) },
    y: { type: 'linear', min: -6, max: 151, afterBuildTicks: fixTicks(hTicks), ticks: { padding: 2 },
      grid: { color: '#e8e8e8', tickLength: 2, tickColor: '#333' }, border: noBorder, afterFit: fixW(16) }
  } },
  plugins: [
    violins({ horizontal: false, width: 0.39, boxStyle: 'median', lw: 0.7, stroke: '#333',
      items: hViolins.map((p, i) => ({ pos: i, prof: p, color: '#cbcbcb', box: [hMedians[i]] })) }),
    brackets([{ from: 0, to: 1, at: 130, label: '***', tick: 3, below: true }]),
    frame()
  ]
});

// ================= connectors (small svgs kept behind the canvases) =================
{
  const yl = dLeft.scales.y, a1 = dLeft.chartArea, a2 = dRight.chartArea;
  const nStart = dRightVals[0], nEnd = dRightVals[0] + dRightVals[1];
  const sD = mkSvg(625, 25, 52, 200);
  svgAdd(sD, `<polygon points="${pts([[a1.right, yl.getPixelForValue(nEnd)], [a2.left, a2.top], [a2.left, a2.bottom], [a1.right, yl.getPixelForValue(nStart)]])}" fill="#e6e6e6"/>`);
  const fy = fChart.scales.y, fa = fChart.chartArea, t = gTop.chartArea, b = gBot.chartArea;
  const sF = mkSvg(385, 305, 35, 185);
  svgAdd(sF, `<polygon points="${pts([[fa.right + 3, fy.getPixelForValue(4)], [t.left, t.top], [t.left, t.bottom], [fa.right + 3, fy.getPixelForValue(6)]])}" fill="#efefef"/>`);
  svgAdd(sF, `<polygon points="${pts([[fa.right + 3, fy.getPixelForValue(6)], [b.left, b.top], [b.left, b.bottom], [fa.right + 3, fy.getPixelForValue(8)]])}" fill="#efefef"/>`);
}
{
  const sE = mkSvg(0, 295, 200, 200);
  svgAdd(sE, '<rect x="53.5" y="313.5" width="141" height="176" fill="none" stroke="#555" stroke-width="1"/>');
  [343.5, 371.5, 400.5, 428.5, 457.5].forEach(y => svgAdd(sE, `<line x1="54" y1="${y}" x2="194" y2="${y}" stroke="#e2e2e2" stroke-width="1"/>`));
  svgAdd(sE, '<line x1="58" y1="308" x2="76" y2="308" stroke="#111" stroke-width="1"/><polygon points="55,308 61,305.5 61,310.5" fill="#111"/>');
  svgAdd(sE, '<line x1="173" y1="308" x2="191" y2="308" stroke="#111" stroke-width="1"/><polygon points="195,308 189,305.5 189,310.5" fill="#111"/>');
  [[318, 363], [374, 427], [433, 484]].forEach(([a, b]) => svgAdd(sE, `<path d="M19.5,${a} H16.5 V${b} H19.5" fill="none" stroke="#222" stroke-width="0.9"/>`));
}

// ================= text =================
const PL = { bold: true, size: 13 };
T(3, 0, 'A', PL); T(171, 0, 'B', PL); T(327, 4, 'C', PL); T(499, 4, 'D', PL);
T(3, 289, 'E', PL); T(226, 283, 'F', PL); T(415, 281, 'G', PL); T(681, 281, 'H', PL);

// A
T(20, 9, 'Autosomal promoters', { size: 8.5 });
T(20, 21, 'male vs. female hPGCs', { size: 8.5 });
T(15, 185, 'mhPGCs /fmPGCs (log<sub>2</sub>FC)', { size: 8.5 });
T(15, 230, 'mhPGCs - fhPGCs (% 5mC)', { size: 8.5 });
SQ(15, 242, 11, 8, '#f9d3d9'); T(29, 242, 'Female bias', { size: 8.5 });
SQ(78, 242, 11, 8, '#d5d7ef'); T(92, 242, 'Male bias', { size: 8.5 });

// B
SQ(172, 6, 11, 9, '#1d9f4e'); T(185, 7, 'Shared', { size: 8.5 });
SQ(224, 6, 11, 9, '#f4a0b3'); T(237, 7, 'Female-specific', { size: 8.5 });
SQ(172, 18, 11, 9, '#7d80c5'); T(185, 19, 'Male-specific', { size: 8.5 });
SQ(244, 18, 11, 9, '#dcdcdc'); T(257, 19, 'Not occupied', { size: 8.5 });
T(232, 149, 'Promoter number &nbsp;(×10<sup>3</sup>)', { a: 'c', size: 8.5 });
T(185, 166, 'Male-specific', { size: 8.5 }); T(238, 166, 'Female-specific', { size: 8.5 });
T(233, 241, 'Promoter number (×10<sup>3</sup>)', { a: 'c', size: 8.5 });

// C
T(340, 8, 'H3K27me3 promoter levels', { size: 8.5 });
SQ(336, 19, 10, 9, '#6970bc', '#333'); T(348, 20, '♂-PGCs', { size: 8.5 });
SQ(383, 19, 10, 9, '#f28ea2', '#333'); T(395, 20, '♀ PGCs', { size: 8.5 });
T(493, 35, 'Shared', { a: 'r', size: 8.5 });
T(493, 148, '♂-specific', { a: 'r', size: 8.5 });
T(332, 134, 'Log<sub>2</sub>(normalized counts +1)', { rot: true, size: 8 });

// D
T(583, 8, 'Male-specific H3K27me3 promoters', { a: 'c', size: 8.5 });
T(583, 19, '(wk9)', { a: 'c', size: 8.5 });
T(505, 125, 'Promoter number &nbsp;(×10<sup>3</sup>)', { rot: true, size: 8.5 });
T(538, 221, 'mhPGCs', { a: 'c', size: 8.5 }); T(626, 221, 'fhPGCs', { a: 'c', size: 8.5 });
T(704, 8, 'H3K4me3/H3K4me1 at', { a: 'c', size: 8.5 });
T(704, 19, 'male-specific H3K27me3 promoters', { a: 'c', size: 8.5 });
T(650, 125, 'Promoter number &nbsp;(×10<sup>3</sup>)', { rot: true, size: 8.5 });
T(668, 221, 'mhPGCs', { a: 'c', size: 8.5 }); T(748, 221, 'fhPGCs', { a: 'c', size: 8.5 });

// E
T(124, 304, 'chr19:33,297,934–33,307,564', { a: 'c', size: 7 });
[[316, '[0–130]'], [345, '[0–130]'], [374, '[0–220]'], [403, '[0–220]'], [431, '[0–251]'], [460, '[0–251]']].forEach(([y, s]) => T(56, y, s, { size: 5, color: '#555' }));
T(35, 323, 'mhPGCs', { a: 'c', size: 8.5 }); T(35, 332, '(wk9)', { a: 'c', size: 8.5 });
T(35, 349, 'fhPGCs', { a: 'c', size: 8.5 }); T(35, 358, '(wk9)', { a: 'c', size: 8.5 });
T(35, 383, 'mhPGCs', { a: 'c', size: 8.5 }); T(35, 412, 'fhPGCs', { a: 'c', size: 8.5 });
T(35, 442, 'mhPGCs', { a: 'c', size: 8.5 }); T(35, 469, 'fhPGCs', { a: 'c', size: 8.5 });
T(9, 340, 'H3K27me3', { rot: true, size: 8.5 }); T(9, 400, 'H3K4me1', { rot: true, size: 8.5 }); T(9, 458, 'H3K4me3', { rot: true, size: 8.5 });
T(10, 492, 'CpG islands', { size: 8.5 });
T(100, 510, 'CEBPA', { a: 'c', size: 8.5, italic: true });

// F
T(226, 297, 'Expression of male-specific H3K27me3 promoters', { size: 8.5 });
T(214, 322, 'Without<br>H3K4me3<br>or H3K4me1', { size: 8.5, lh: 8 });
T(214, 366, 'H3K4me1<br>only', { size: 8.5, lh: 9 });
T(214, 408, 'H3K4me3<br>only', { size: 8.5, lh: 9 });
T(216, 448, 'H3K4me3<br>and<br>H3K4me1', { size: 8.5, lh: 8.5 });
T(327, 497, 'Rel. expression (log<sub>2</sub>FC)', { a: 'c', size: 8.5 });
SQ(262, 513, 11, 10, '#5db847', '#333'); T(279, 514, 'fhPGCs wk9/fhPGCs wk7', { size: 8.5 });
SQ(262, 525, 11, 10, '#cdcde8', '#333'); T(279, 526, 'fhPGCs wk7/mhPGCs wk7', { size: 8.5 });

// G
T(455, 308, 'H3K4me3 only', { a: 'c', bold: true });
T(413, 403, 'H3K4me3 and H3K4me1', { bold: true });
T(455, 496, '−Log<sub>10</sub>(<i>P</i> value)', { a: 'c', size: 8.5 });
const GA = { size: 7.5 };
[
  [318, '<b>Homophilic cell adhesion &nbsp;GO:0007156</b>'], [325, '<i>CDH2,CADM2,PCDHGA7</i>'],
  [336, '<b>Cell adhesion GO:0007155</b>'], [343, '<i>NRCAM, CDH2, TPBG, PODXL</i>'],
  [355, '<b>Nervous system development GO:0007399</b>'], [363, '<i>NRG3, PURA, SCN8A, DPYSL5</i>'],
  [374, '<b>Positive regulation of transcription</b>'], [382, '<b>GO:0045944</b> &nbsp;<i>TEAD4, DMRT1, MYB, CEBPA</i>'],
  [412, '<b>Cell adhesion GO:0007155</b>'], [420, '<i>CDH3, CD47, ITGB3, ITGA2</i>'],
  [431, '<b>Signal transduction GO:0007165</b>'], [439, '<i>KIT, ROR2, IL4R, CD38, IGFBP6</i>'],
  [451, '<b>Protein localization to plasma membrane</b>'], [459, '<b>GO:0072659</b> <i>RAB3B, GAS6, MYO5A, ZDHHC23</i>'],
  [470, '<b>Positive regulation of cell migration</b>'], [478, '<b>GO:0030335</b> <i>PDPN, KIT, CD151, ROR2</i>']
].forEach(([y, s]) => T(496, y, s, GA));

// H
T(722, 319, 'wk7/8 hPGCs', { a: 'c', size: 8.5 });
T(699, 337, 'KDM6A', { italic: true, size: 8.5 });
T(675, 397, 'Transcripts per million', { rot: true, size: 8.5 });
</script>
</body>
</html>
